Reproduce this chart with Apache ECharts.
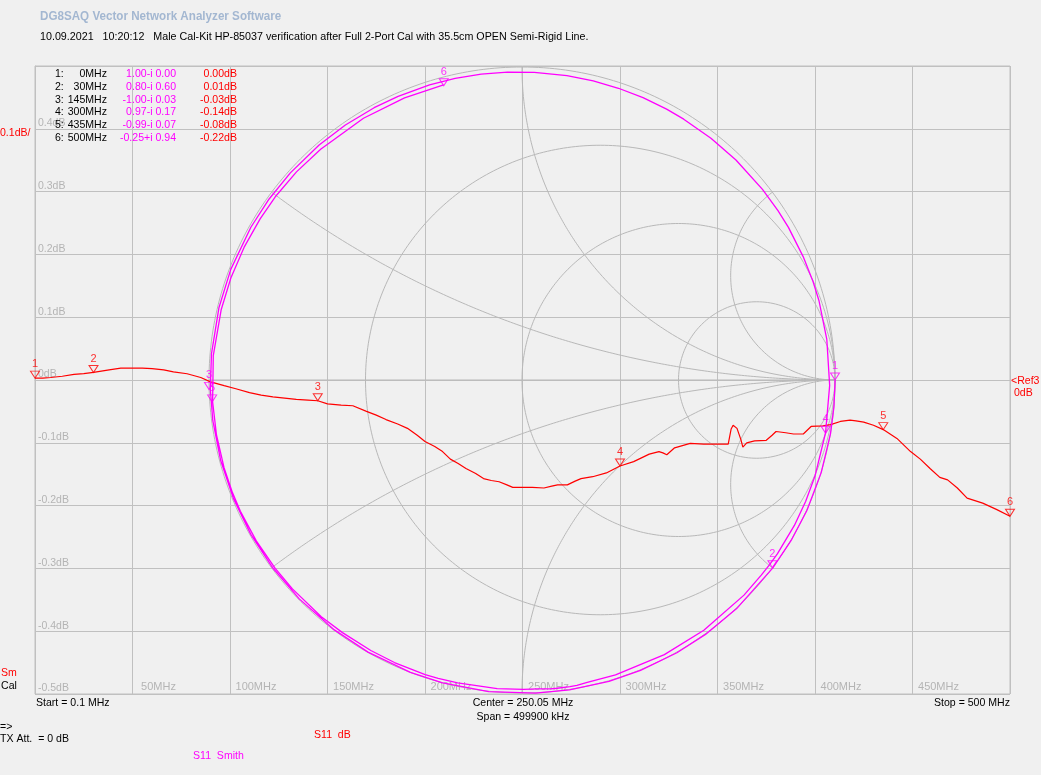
<!DOCTYPE html>
<html><head><meta charset="utf-8">
<script src="https://cdn.jsdelivr.net/npm/echarts@6/dist/echarts.min.js"></script>
<style>html,body{margin:0;padding:0;background:#f0f0f0;overflow:hidden}#c{width:1041px;height:775px}</style>
</head><body><div id="c"></div>
<script>
// ---- data ----
const freqMHz = [0,4,8,14,20,25,30,38,44,49,55,60,66,71,78,85,90,97,103,110,116,122,128,134,140,145,150,157,163,170,175,180,186,191,196,200,205,209,213,217,221,226,230,234,238,242,245,250,255,261,265,268,273,277,280,286,293,300,307,311,315,320,322,324,328,336,343,351,355.5,357,358,360,361,362,363,365,369,375,378,380,385,389,394,398,404,408,413,418,421,425,430,435,442,449,454,459,464,468,473,478,486,493,500];
const s11dB = [0.003,0.003,0.004,0.006,0.009,0.010,0.012,0.016,0.019,0.019,0.019,0.018,0.016,0.013,0.010,0.004,-0.003,-0.009,-0.014,-0.020,-0.024,-0.027,-0.029,-0.031,-0.032,-0.033,-0.038,-0.040,-0.041,-0.050,-0.056,-0.063,-0.070,-0.077,-0.088,-0.098,-0.106,-0.114,-0.126,-0.133,-0.141,-0.149,-0.157,-0.160,-0.162,-0.167,-0.171,-0.171,-0.171,-0.172,-0.169,-0.167,-0.167,-0.161,-0.157,-0.154,-0.148,-0.137,-0.130,-0.124,-0.118,-0.114,-0.116,-0.119,-0.108,-0.101,-0.102,-0.102,-0.102,-0.078,-0.072,-0.077,-0.079,-0.095,-0.107,-0.100,-0.097,-0.096,-0.088,-0.082,-0.084,-0.086,-0.086,-0.074,-0.073,-0.071,-0.066,-0.064,-0.065,-0.067,-0.072,-0.079,-0.093,-0.114,-0.126,-0.141,-0.155,-0.159,-0.172,-0.188,-0.196,-0.206,-0.217];
const s11PhaseDeg = [0,-4.9,-9.9,-17.2,-24.6,-30.8,-36.9,-46.8,-54.2,-60.4,-67.8,-73.9,-81.3,-87.5,-96.1,-104.7,-110.9,-119.5,-126.9,-135.5,-142.9,-150.3,-157.7,-165.1,-172.5,-178.3,-184.8,-193.4,-200.8,-209.4,-215.6,-221.8,-229.2,-235.3,-241.5,-246.4,-252.6,-257.5,-262.4,-267.3,-272.3,-278.4,-283.4,-288.3,-293.2,-298.1,-301.8,-308.0,-314.2,-321.6,-326.5,-330.2,-336.3,-341.3,-345.0,-352.4,-361.0,-369.9,-378.2,-383.2,-388.1,-394.2,-396.7,-399.2,-404.1,-414.0,-422.6,-432.4,-438.0,-439.8,-441.1,-443.5,-444.8,-446.0,-447.2,-449.7,-454.6,-462.0,-465.7,-468.2,-474.3,-479.2,-485.4,-490.3,-497.7,-502.7,-508.8,-515.0,-518.7,-523.6,-529.8,-536.0,-544.5,-553.2,-559.3,-565.5,-571.6,-576.6,-582.7,-588.9,-598.8,-607.4,-615.1];
const markerNo = [1,2,3,4,5,6];
const markerFreqMHz = [0,30,145,300,435,500];
const markerRe = [1.00,0.80,-1.00,0.97,-0.99,-0.25];
const markerIm = [0.00,-0.60,-0.03,-0.17,-0.07,0.94];
const markerDb = [0.00,0.01,-0.03,-0.14,-0.08,-0.22];
const smithR = [0,1/3,1,3];
const smithX = [1/3,1,3];
const headerTitle = 'DG8SAQ Vector Network Analyzer Software';
const headerInfo = '10.09.2021   10:20:12   Male Cal-Kit HP-85037 verification after Full 2-Port Cal with 35.5cm OPEN Semi-Rigid Line.';

// ---- styles ----
const FONT = "'Liberation Sans',Arial,sans-serif";
const FS = 11;
const SX = 0.96;
const GRID_C = '#c0c0c0';
const SMITH_C = '#b8b8b8';
const LABEL_C = '#b4b4b4';
const RED = '#ff0000', MAG = '#ff00ff';

// ---- Smith chart furniture (in reflection-coefficient coordinates) ----
function gam(r, x){ const d=(r+1)*(r+1)+x*x; return [(r*r+x*x-1)/d, 2*x/d]; }
const smithSeries = [];
function addCurve(pts){
  smithSeries.push({type:'line',xAxisIndex:1,yAxisIndex:1,data:pts,showSymbol:false,silent:true,clip:false,
    lineStyle:{color:SMITH_C,width:1},z:1});
}
smithR.forEach(r=>{
  const cx=r/(1+r), rad=1/(1+r), pts=[];
  for(let i=0;i<=360;i++){const a=i*Math.PI/180;pts.push([cx+rad*Math.cos(a),rad*Math.sin(a)]);}
  addCurve(pts);
});
smithX.forEach(x=>{
  [x,-x].forEach(xx=>{
    const pts=[];
    for(let i=0;i<400;i++){const t=i/400; pts.push(gam(t/(1-t),xx));}
    pts.push([1,0]);
    addCurve(pts);
  });
});
addCurve([[-1,0],[1,0]]);

// ---- traces ----
const dbData = freqMHz.map((f,i)=>[f,s11dB[i]]);
const smithData = freqMHz.map((f,i)=>{
  const m=Math.pow(10,s11dB[i]/20), a=s11PhaseDeg[i]*Math.PI/180;
  return [m*Math.cos(a), m*Math.sin(a)];
});
const TRI = 'path://M0,0L10,0L5,8Z';
const dbMarkers = markerFreqMHz.map((f,i)=>({name:String(markerNo[i]),value:[f,s11dB[freqMHz.indexOf(f)]]}));
const smMarkers = markerRe.map((re,i)=>({name:String(markerNo[i]),value:[re,markerIm[i]]}));

function fmt2(v){return (Math.abs(v)<0.005?0:v).toFixed(2);}
const texts = [];
function txt(x,y,s,fill,align,extra,sx){
  texts.push({type:'text',x:x,y:y,scaleX:sx||SX,silent:true,z:100,
    style:Object.assign({text:s,fill:fill||'#000',font:FS+'px '+FONT,textAlign:align||'left',textVerticalAlign:'middle'},extra||{})});
}
txt(40,17,headerTitle,'#a3b7d1','left',{font:'bold 12px '+FONT},0.97);
txt(40,37,headerInfo,'#000','left',null,0.975);
const rowY0=74.3, rowDY=12.7;
markerNo.forEach((n,i)=>{
  const y=rowY0+i*rowDY;
  txt(55,y,n+':','#000');
  txt(107,y,markerFreqMHz[i]+'MHz','#000','right');
  const im=markerIm[i];
  txt(176,y,fmt2(markerRe[i])+(im<=0?'-i ':'+i ')+Math.abs(im).toFixed(2),MAG,'right');
  txt(237,y,fmt2(markerDb[i])+'dB',RED,'right');
});
txt(0,133,'0.1dB/',RED);
txt(1,673,'Sm',RED);
txt(1,686,'Cal','#000');
txt(1011,381,'<Ref3',RED);
txt(1014,393,'0dB',RED);
txt(36,703,'Start = 0.1 MHz','#000');
txt(523,703,'Center = 250.05 MHz','#000','center');
txt(523,716.5,'Span = 499900 kHz','#000','center');
txt(1010,703,'Stop = 500 MHz','#000','right');
txt(0,727,'=>','#000');
txt(0,738.5,'TX Att.  = 0 dB','#000');
txt(314,735,'S11  dB',RED);
txt(193,756,'S11  Smith',MAG);

const chart = echarts.init(document.getElementById('c'),null,{renderer:'canvas'});
chart.setOption({
  animation:false,
  backgroundColor:'#f0f0f0',
  textStyle:{fontFamily:FONT,fontSize:FS},
  grid:[
    {left:35,top:66,width:975,height:628,show:true,borderColor:GRID_C,borderWidth:1,backgroundColor:'transparent',containLabel:false},
    {left:209,top:67,width:626,height:626,show:false,containLabel:false}
  ],
  xAxis:[
    {type:'value',gridIndex:0,min:0,max:500,interval:50,
      axisLine:{show:true,lineStyle:{color:GRID_C}},axisTick:{show:false},
      splitLine:{show:true,lineStyle:{color:GRID_C,width:1}},
      axisLabel:{inside:true,margin:2,verticalAlign:'bottom',align:'center',padding:[0,0,0,52],color:LABEL_C,fontFamily:FONT,fontSize:11,
        showMinLabel:false,showMaxLabel:false,formatter:v=>(v<=0||v>=500)?'':v+'MHz'}},
    {type:'value',gridIndex:1,min:-1,max:1,show:false}
  ],
  yAxis:[
    {type:'value',gridIndex:0,min:-0.5,max:0.5,interval:0.1,
      axisLine:{show:true,lineStyle:{color:GRID_C}},axisTick:{show:false},
      splitLine:{show:true,lineStyle:{color:GRID_C,width:1}},
      axisLabel:{inside:true,margin:3,align:'left',verticalAlign:'bottom',color:LABEL_C,fontFamily:FONT,fontSize:10.5,
        formatter:v=>{const r=Math.round(v*10)/10; if(r>=0.5) return ''; return (r===0?'0':r.toFixed(1))+'dB';}}},
    {type:'value',gridIndex:1,min:-1,max:1,show:false}
  ],
  series: smithSeries.concat([
    {type:'line',xAxisIndex:0,yAxisIndex:0,data:dbData,showSymbol:false,silent:true,clip:false,
      lineStyle:{color:RED,width:1.2},z:5},
    {type:'line',xAxisIndex:1,yAxisIndex:1,data:smithData,showSymbol:false,silent:true,clip:false,
      lineStyle:{color:MAG,width:1.3},z:6},
    {type:'scatter',xAxisIndex:0,yAxisIndex:0,data:dbMarkers,symbol:TRI,symbolSize:[9,7],symbolOffset:[0,'-50%'],
      itemStyle:{color:'rgba(0,0,0,0)',borderColor:RED,borderWidth:1},silent:true,clip:false,z:7,
      label:{show:true,position:'top',distance:1,formatter:'{b}',color:RED,fontFamily:FONT,fontSize:11}},
    {type:'scatter',xAxisIndex:1,yAxisIndex:1,data:smMarkers,symbol:TRI,symbolSize:[9,7],symbolOffset:[0,'-50%'],
      itemStyle:{color:'rgba(0,0,0,0)',borderColor:MAG,borderWidth:1},silent:true,clip:false,z:8,
      label:{show:true,position:'top',distance:1,formatter:'{b}',color:MAG,fontFamily:FONT,fontSize:11}}
  ]),
  graphic: texts
});
</script></body></html>
